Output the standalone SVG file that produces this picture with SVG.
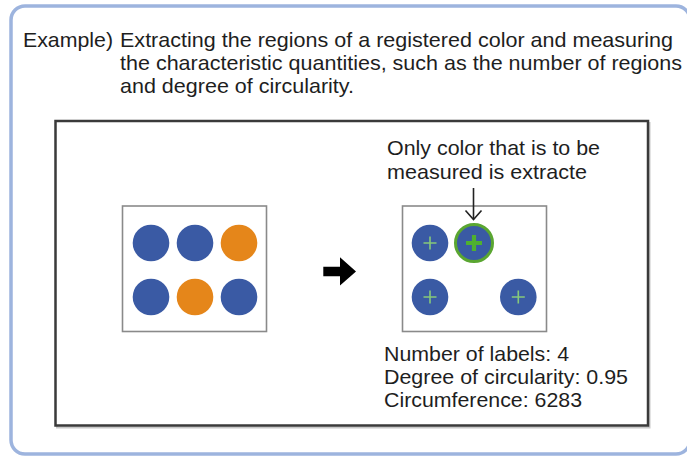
<svg xmlns="http://www.w3.org/2000/svg" width="687" height="456" viewBox="0 0 687 456">
<defs>
<style>
.t{font-family:"Liberation Sans",Arial,sans-serif;font-size:21px;fill:#1e1e1e}
.blue{fill:#3a5aa4}
.orange{fill:#e5861a}
.box{fill:#fff;stroke:#8a8a8a;stroke-width:1.6}
.pl{stroke:#86c97a;stroke-width:1.6;fill:none}
</style>
</defs>
<rect width="687" height="456" fill="#fff"/>
<g id="frame">
<rect x="11" y="6" width="679" height="448" rx="14" fill="#fff" stroke="#9db4de" stroke-width="3.5"/>
</g>
<g id="header">
<text class="t" x="23" y="47" textLength="90" lengthAdjust="spacingAndGlyphs">Example)</text>
<text class="t" x="120" y="47" textLength="553" lengthAdjust="spacingAndGlyphs">Extracting the regions of a registered color and measuring</text>
<text class="t" x="120" y="70" textLength="562" lengthAdjust="spacingAndGlyphs">the characteristic quantities, such as the number of regions</text>
<text class="t" x="120" y="93" textLength="234" lengthAdjust="spacingAndGlyphs">and degree of circularity.</text>
</g>
<g id="panel">
<rect x="57" y="123" width="592.5" height="304.5" fill="none" stroke="#c8c8c8" stroke-width="2"/>
<rect x="55.5" y="121" width="592.5" height="304.5" fill="#fff" stroke="#3a3a3a" stroke-width="2.5"/>
</g>
<g id="before">
<rect class="box" x="122.5" y="206" width="144" height="125.5"/>
<circle class="blue" cx="151" cy="243" r="18.3"/>
<circle class="blue" cx="195" cy="243" r="18.3"/>
<circle class="orange" cx="239" cy="243" r="18.3"/>
<circle class="blue" cx="151" cy="297" r="18.3"/>
<circle class="orange" cx="195" cy="297" r="18.3"/>
<circle class="blue" cx="239" cy="297" r="18.3"/>
</g>
<g id="after">
<rect class="box" x="402.5" y="206" width="144" height="125.5"/>
<circle class="blue" cx="430" cy="243" r="18.3"/>
<path class="pl" d="M423.5 243h13M430 236.5v13"/>
<circle class="blue" cx="474" cy="243" r="18.5" stroke="#5aa631" stroke-width="3"/>
<path d="M466 243h16M474 235v16" stroke="#4fb02f" stroke-width="4.2" fill="none"/>
<circle class="blue" cx="430" cy="297" r="18.3"/>
<path class="pl" d="M423.5 297h13M430 290.5v13"/>
<circle class="blue" cx="518.3" cy="297" r="18.3"/>
<path class="pl" d="M511.8 297h13M518.3 290.5v13"/>
</g>
<g id="connectors">
<path d="M323.3 266.8H340V257.3L356 271.5L340 285.5V276.2H323.3Z" fill="#000"/>
<path d="M473.5 188V219" stroke="#222" stroke-width="1.6" fill="none"/>
<path d="M465.5 210.5L473.5 219.5L481.5 210.5" stroke="#222" stroke-width="1.6" fill="none"/>
</g>
<g id="callout">
<text class="t" x="387" y="155" textLength="213" lengthAdjust="spacingAndGlyphs">Only color that is to be</text>
<text class="t" x="387" y="179" textLength="200" lengthAdjust="spacingAndGlyphs">measured is extracte</text>
</g>
<g id="results">
<text class="t" x="384" y="361" textLength="185" lengthAdjust="spacingAndGlyphs">Number of labels: 4</text>
<text class="t" x="384" y="384" textLength="244" lengthAdjust="spacingAndGlyphs">Degree of circularity: 0.95</text>
<text class="t" x="384" y="407" textLength="198" lengthAdjust="spacingAndGlyphs">Circumference: 6283</text>
</g>
</svg>
